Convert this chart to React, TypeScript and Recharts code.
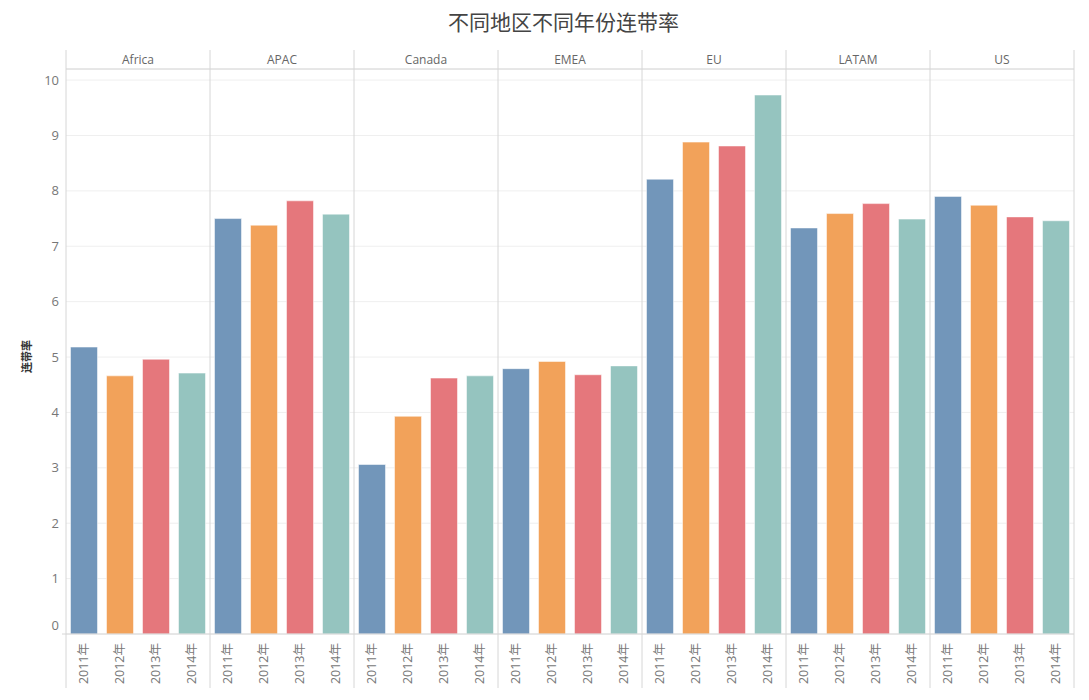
import React from 'react';
import { BarChart, Bar, XAxis, YAxis, CartesianGrid } from 'recharts';

const regions = ['Africa', 'APAC', 'Canada', 'EMEA', 'EU', 'LATAM', 'US'];
const years = ['2011年', '2012年', '2013年', '2014年'];
const v2011 = [5.18, 7.50, 3.06, 4.79, 8.21, 7.33, 7.90];
const v2012 = [4.66, 7.38, 3.93, 4.92, 8.88, 7.59, 7.74];
const v2013 = [4.96, 7.82, 4.62, 4.68, 8.81, 7.77, 7.53];
const v2014 = [4.71, 7.58, 4.66, 4.84, 9.73, 7.49, 7.46];
const yTicks = [0, 1, 2, 3, 4, 5, 6, 7, 8, 9, 10];
const colors = ['#7296ba', '#f2a25a', '#e5777c', '#95c4bf'];

const data = regions.map((r, i) => ({
  region: r,
  y2011: v2011[i],
  y2012: v2012[i],
  y2013: v2013[i],
  y2014: v2014[i],
}));

const W = 1089;
const H = 700;
const M = { top: 50, right: 15, left: 0, bottom: 12 };
const Y_W = 66;
const TOP_H = 19;
const BOT_H = 54;
const plotLeft = M.left + Y_W;
const plotRight = W - M.right;
const plotTop = M.top + TOP_H;
const plotBottom = H - M.bottom - BOT_H;
const band = (plotRight - plotLeft) / regions.length;
const FONT = '"Open Sans", "Noto Sans CJK SC", sans-serif';
const FRAME = '#d6d6d6';

const YearTicks = (props: any) => {
  const { x, y } = props;
  const step = band / years.length;
  return (
    <g>
      {years.map((yr, i) => {
        const cx = x - band / 2 + step * (i + 0.5);
        return (
          <text
            key={yr}
            x={0}
            y={0}
            transform={`translate(${cx + 4},${y + 1}) rotate(-90)`}
            textAnchor="end"
            fontSize={12.5}
            fill="#777"
            fontFamily={FONT}
          >
            {yr}
          </text>
        );
      })}
    </g>
  );
};

const ValueTick = (props: any) => {
  const { x, y, payload } = props;
  const shift = payload.value === 0 ? -9 : 0;
  return (
    <text x={x} y={y + shift} dy="0.355em" textAnchor="end" fontSize={13} fill="#777" fontFamily={FONT}>
      {payload.value}
    </text>
  );
};

export default function App() {
  const seps = regions.map((_, i) => plotLeft + i * band).concat([plotRight]);
  return (
    <div style={{ position: 'absolute', left: 0, top: 0, width: W, height: H, background: '#fff', fontFamily: FONT }}>
      <div
        style={{
          position: 'absolute',
          left: 0,
          width: W,
          top: 6,
          textAlign: 'center',
          fontSize: 21,
          color: '#444',
          fontFamily: '"Noto Sans CJK SC", sans-serif',
          paddingLeft: 38,
          boxSizing: 'border-box',
        }}
      >
        不同地区不同年份连带率
      </div>
      <div style={{ position: 'absolute', left: 0, top: 0 }}>
        <BarChart width={W} height={H} data={data} margin={M} barCategoryGap={4.5} barGap={9}>
          <CartesianGrid vertical={false} stroke="#efefef" />
          <XAxis
            dataKey="region"
            xAxisId={0}
            height={BOT_H}
            tick={<YearTicks />}
            tickLine={false}
            axisLine={{ stroke: FRAME }}
            interval={0}
          />
          <XAxis
            dataKey="region"
            xAxisId="top"
            orientation="top"
            height={TOP_H}
            tickLine={false}
            axisLine={false}
            interval={0}
            tick={{ fontSize: 12, fill: '#666', fontFamily: FONT, dy: 1 }}
            tickMargin={0}
          />
          <YAxis
            width={Y_W}
            domain={[0, 10.2]}
            ticks={yTicks}
            tickLine={false}
            axisLine={false}
            interval={0}
            tick={<ValueTick />}
            tickMargin={1}
          />
          <Bar dataKey="y2011" fill={colors[0]} stroke="#ffffff" strokeOpacity={0.5} isAnimationActive={false} />
          <Bar dataKey="y2012" fill={colors[1]} stroke="#ffffff" strokeOpacity={0.5} isAnimationActive={false} />
          <Bar dataKey="y2013" fill={colors[2]} stroke="#ffffff" strokeOpacity={0.5} isAnimationActive={false} />
          <Bar dataKey="y2014" fill={colors[3]} stroke="#ffffff" strokeOpacity={0.5} isAnimationActive={false} />
        </BarChart>
      </div>
      <svg width={W} height={H} style={{ position: 'absolute', left: 0, top: 0, pointerEvents: 'none' }}>
        {seps.map((sx, i) => (
          <line key={i} x1={sx} x2={sx} y1={M.top} y2={H - 12} stroke={FRAME} strokeWidth={1} />
        ))}
        <line x1={plotLeft} x2={plotRight} y1={plotTop} y2={plotTop} stroke={FRAME} strokeWidth={1} />
        <line x1={plotLeft - 4} x2={plotLeft} y1={plotBottom} y2={plotBottom} stroke={FRAME} strokeWidth={1} />
        <text
          transform={`translate(31,${(plotTop + plotBottom) / 2 + 5}) rotate(-90)`}
          textAnchor="middle"
          fontSize={11}
          fill="#333"
          fontWeight={700}
          fontFamily='"Noto Sans CJK SC", sans-serif'
        >
          连带率
        </text>
      </svg>
    </div>
  );
}
